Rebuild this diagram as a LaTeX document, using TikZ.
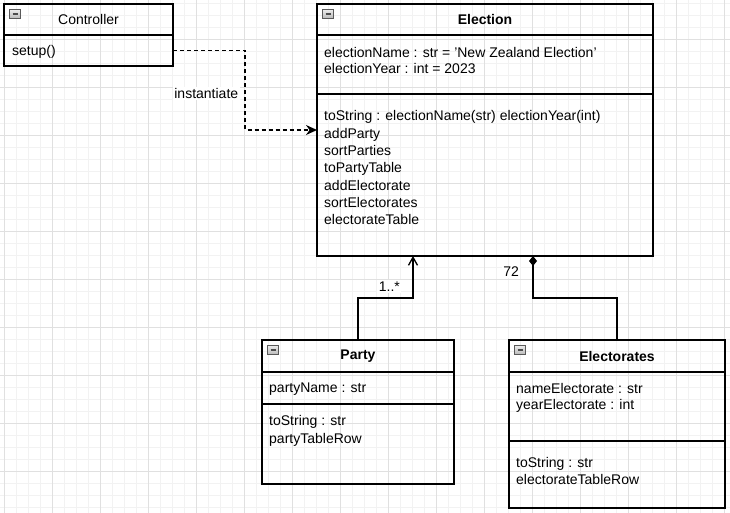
\documentclass[tikz,border=0pt]{standalone}
\usepackage{fontspec}
\setmainfont{Liberation Sans}
\usetikzlibrary{arrows.meta,calc,positioning}

% collapse icon in the corner of a class header
\newcommand{\foldicon}[1]{%
  \draw[draw=gray!70!black, top color=gray!15, bottom color=gray!55]
    ([shift={(5.5,5.5)}]#1.north west) rectangle ++(11,9);
  \draw[line width=1.6pt, black!70] ([shift={(8.5,10)}]#1.north west) -- ++(5,0);}

\tikzset{
  classhead/.style={draw, line width=1.3pt, anchor=north west, inner sep=0pt, outer sep=0pt,
    font=\fontsize{14}{16}\selectfont},
  compart/.style={draw, line width=1.3pt, inner sep=0pt, outer sep=0pt},
  members/.style={anchor=north west, inner sep=0pt, align=left, font=\fontsize{14}{16}\selectfont},
  edgelabel/.style={fill=white, inner sep=1.5pt, font=\fontsize{14}{16}\selectfont},
  minorgrid/.style={black!5, line width=0.8pt},
  majorgrid/.style={black!12, line width=0.8pt}
}

\begin{document}
\begin{tikzpicture}[x=1pt,y=-1pt]
  \useasboundingbox[fill=white] (0,0) rectangle (730,513);
  % background grid
  \foreach \g in {4,16,...,724} \draw[minorgrid] (\g,0) -- (\g,513);
  \foreach \g in {3,15,...,507} \draw[minorgrid] (0,\g) -- (730,\g);
  \foreach \g in {4,52,...,724} \draw[majorgrid] (\g,0) -- (\g,513);
  \foreach \g in {39,87,...,471} \draw[majorgrid] (0,\g) -- (730,\g);

  % Controller
  \node[classhead, minimum width=169, minimum height=31] (cHead) at (4,4) {Controller};
  \node[compart, minimum width=169, minimum height=31, below=0pt of cHead] (cBody) {};
  \node[members] at ([shift={(8,10)}]cBody.north west) {setup()};
  \foldicon{cHead}

  % Election
  \node[classhead, minimum width=336, minimum height=31] (eHead) at (317,4) {\bfseries Election};
  \node[compart, minimum width=336, minimum height=59, below=0pt of eHead] (eAttr) {};
  \node[compart, minimum width=336, minimum height=162, below=0pt of eAttr] (eMeth) {};
  \node[members] at ([shift={(7,12)}]eAttr.north west)
    {electionName : str = 'New Zealand Election'\\electionYear : int = 2023};
  \node[members, font=\fontsize{14}{17.3}\selectfont] at ([shift={(7,16.5)}]eMeth.north west)
    {toString : electionName(str) electionYear(int)\\addParty\\sortParties\\toPartyTable\\
     addElectorate\\sortElectorates\\electorateTable};
  \foldicon{eHead}

  % Party
  \node[classhead, minimum width=192, minimum height=32] (pHead) at (262,340) {\bfseries Party};
  \node[compart, minimum width=192, minimum height=32, below=0pt of pHead] (pAttr) {};
  \node[compart, minimum width=192, minimum height=80, below=0pt of pAttr] (pMeth) {};
  \node[members] at ([shift={(7,11)}]pAttr.north west) {partyName : str};
  \node[members, font=\fontsize{14}{17.5}\selectfont] at ([shift={(7,11.3)}]pMeth.north west)
    {toString : str\\partyTableRow};
  \foldicon{pHead}

  % Electorates
  \node[classhead, minimum width=216, minimum height=32] (rHead) at (509,340) {\bfseries Electorates};
  \node[compart, minimum width=216, minimum height=69, below=0pt of rHead] (rAttr) {};
  \node[compart, minimum width=216, minimum height=67, below=0pt of rAttr] (rMeth) {};
  \node[members] at ([shift={(7,11)}]rAttr.north west)
    {nameElectorate : str\\yearElectorate : int};
  \node[members, font=\fontsize{14}{16.7}\selectfont] at ([shift={(7,16)}]rMeth.north west)
    {toString : str\\electorateTableRow};
  \foldicon{rHead}

  % relations
  \draw[line width=1.6pt, dash pattern=on 4pt off 3pt, -{Stealth[length=11pt,width=10pt]}]
    (cBody.east) -- ++(72,0) |- node[pos=0.27, left=4.5pt, edgelabel] {instantiate}
    ([yshift=-36pt]eMeth.north west);
  \draw[line width=1.3pt, -{Straight Barb[length=8pt,width=9pt]}]
    (pHead.north) -- ++(0,-42) -| node[pos=0.64, left=11pt, edgelabel] {1..*}
    ([xshift=96pt]eMeth.south west);
  \draw[line width=1.3pt, -{Diamond[length=10pt,width=8pt]}]
    (rHead.north) -- ++(0,-42) -| node[pos=0.81, left=12pt, edgelabel] {72}
    ([xshift=216pt]eMeth.south west);
\end{tikzpicture}
\end{document}
